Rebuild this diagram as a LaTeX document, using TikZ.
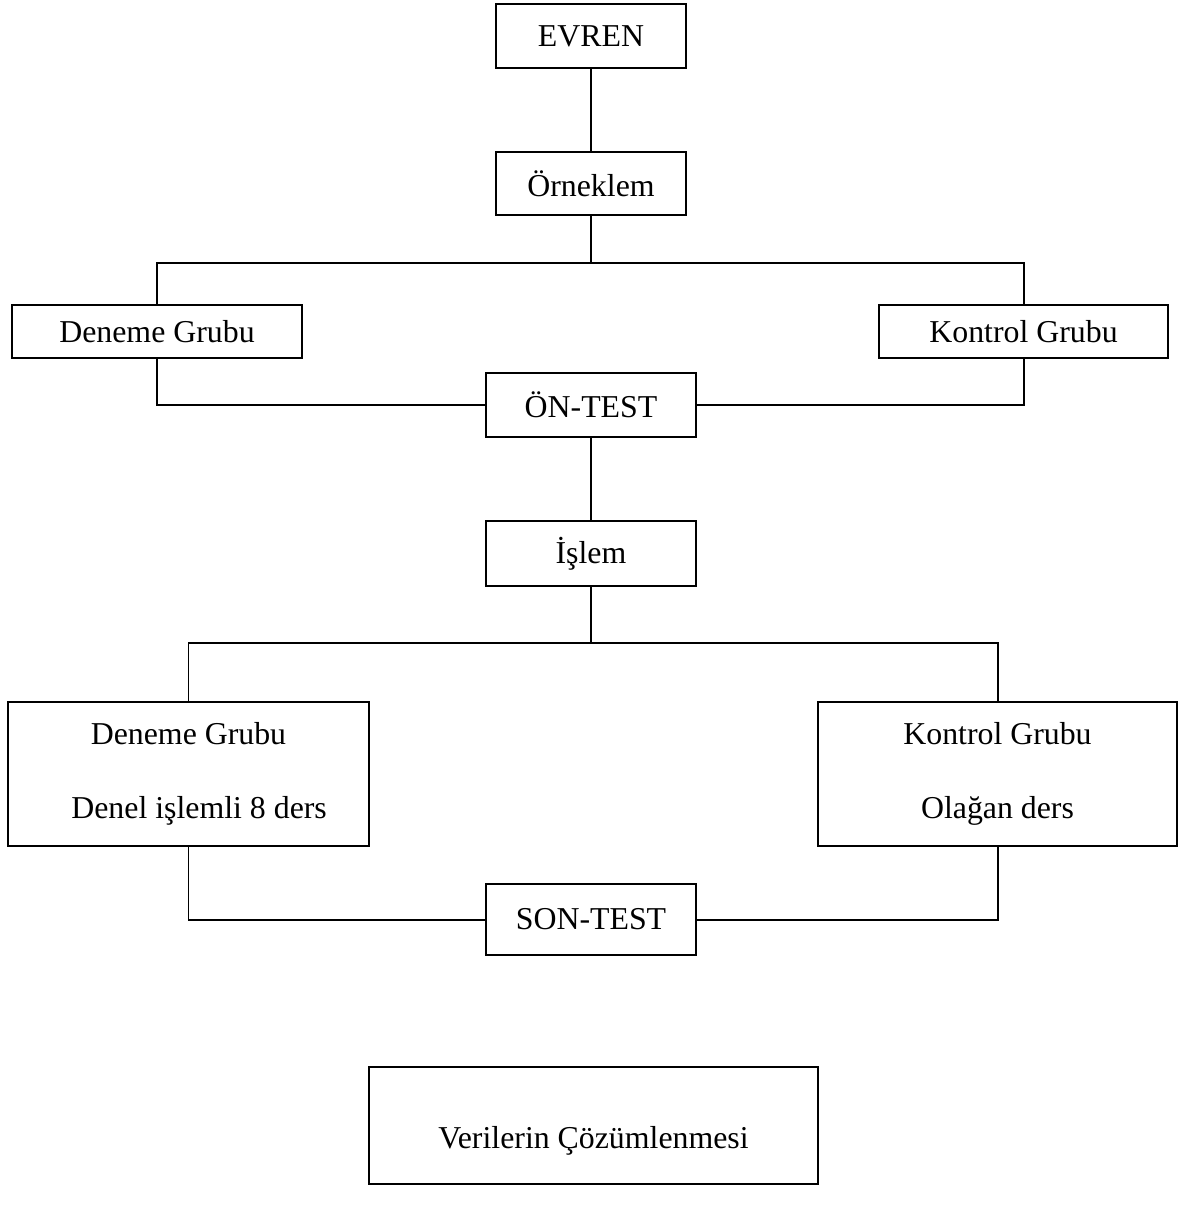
\documentclass[tikz,border=0pt]{standalone}
\usepackage{fontspec}
\setmainfont{Liberation Serif}
\usepackage{amsmath,amssymb}

\tikzset{
  kutu/.style={draw, line width=0.75pt, inner sep=0pt, font=\fontsize{12}{14.5}\selectfont},
  baglanti/.style={line width=0.75pt}
}

\begin{document}
\begin{tikzpicture}[x=0.377pt,y=-0.377pt]
\useasboundingbox (0,0) rectangle (1187,1211);
\node[kutu, minimum width=71.6pt, minimum height=24.1pt] (evren) at (591,36) {EVREN};
\node[kutu, minimum width=71.6pt, minimum height=24.1pt] (orneklem) at (591,183.5) {Örneklem};
\node[kutu, minimum width=109.3pt, minimum height=20pt] (deneme1) at (157,331.5) {Deneme Grubu};
\node[kutu, minimum width=109pt, minimum height=20pt] (kontrol1) at (1023.5,331.5) {Kontrol Grubu};
\node[kutu, minimum width=79.2pt, minimum height=24.1pt] (ontest) at (591,405) {ÖN-TEST};
\node[kutu, minimum width=79.2pt, minimum height=24.5pt] (islem) at (591,553.5) {İşlem};
\node[kutu, align=center, minimum width=136.1pt, minimum height=54.3pt] (deneme2) at (188.5,774) {Deneme Grubu\\[13.4pt]\hspace*{8pt}Denel işlemli 8 ders};
\node[kutu, align=center, minimum width=135.3pt, minimum height=54.3pt] (kontrol2) at (997.5,774) {Kontrol Grubu\\[13.4pt]Olağan ders};
\node[kutu, minimum width=79.2pt, minimum height=26.8pt] (sontest) at (591,919.5) {SON-TEST};
\node[kutu, minimum width=169.3pt, minimum height=44.1pt,
  label={[font=\fontsize{12}{14.5}\selectfont, yshift=-5.6pt]center:Verilerin Çözümlenmesi}] (veri) at (593.5,1125.5) {};
\coordinate (ayrim1) at (591,263);
\coordinate (ayrim2) at (591,643);
\draw[baglanti] (evren) -- (orneklem);
\draw[baglanti] (orneklem) -- (ayrim1);
\draw[baglanti] (deneme1) |- (ayrim1) -| (kontrol1);
\draw[baglanti] (deneme1) |- (ontest);
\draw[baglanti] (ontest) -| (kontrol1);
\draw[baglanti] (ontest) -- (islem);
\draw[baglanti] (islem) -- (ayrim2);
\draw[baglanti] (deneme2) |- (ayrim2) -| (kontrol2);
\draw[baglanti] (deneme2) |- (sontest);
\draw[baglanti] (sontest) -| (kontrol2);
\end{tikzpicture}
\end{document}
